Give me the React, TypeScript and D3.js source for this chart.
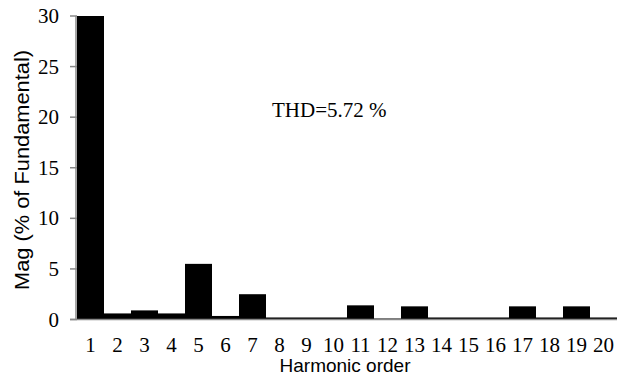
import * as d3 from "d3";

const HARMONICS = d3.range(1, 21).map(String);
const MAGNITUDES = [30, 0.6, 0.9, 0.6, 5.5, 0.35, 2.5, 0.2, 0.2, 0.2, 1.4, 0.1, 1.3, 0.2, 0.2, 0.2, 1.3, 0.2, 1.3, 0.2];
const Y_TICKS = [0, 5, 10, 15, 20, 25, 30];

const WIDTH = 617;
const HEIGHT = 379;
const MARGIN = { top: 16, right: 0, bottom: 60, left: 77 };

const App = () => {
  const boundsWidth = WIDTH - MARGIN.left - MARGIN.right;
  const boundsHeight = 319.5 - MARGIN.top;

  const xScale = d3.scaleBand().domain(HARMONICS).range([0, boundsWidth]).padding(0);
  const yScale = d3.scaleLinear().domain([0, 30]).range([boundsHeight, 0]);

  const bars = MAGNITUDES.map((v, i) => (
    <rect
      key={i}
      x={xScale(HARMONICS[i])}
      width={xScale.bandwidth()}
      y={yScale(v)}
      height={boundsHeight - yScale(v)}
      fill="#000"
    />
  ));

  return (
    <svg width={WIDTH} height={HEIGHT} style={{ position: "absolute", left: 0, top: 0 }}>
      <g transform={`translate(${MARGIN.left},${MARGIN.top})`}>
        {bars}
        {/* y axis */}
        <line x1={-1} x2={-1} y1={0} y2={boundsHeight} stroke="#888" strokeWidth={1.5} />
        {Y_TICKS.map((t) => (
          <g key={t} transform={`translate(0,${yScale(t)})`}>
            <line x1={-7} x2={0} stroke="#888" strokeWidth={1.5} />
            <text
              x={-18}
              textAnchor="end"
              dominantBaseline="central"
              fontFamily="Liberation Serif"
              fontSize={21}
            >
              {t}
            </text>
          </g>
        ))}
        {/* x axis */}
        <line x1={-7} x2={boundsWidth} y1={boundsHeight} y2={boundsHeight} stroke="#888" strokeWidth={1.5} />
        {HARMONICS.map((h) => (
          <text
            key={h}
            x={(xScale(h) ?? 0) + xScale.bandwidth() / 2}
            y={boundsHeight + 32}
            textAnchor="middle"
            fontFamily="Liberation Serif"
            fontSize={21}
          >
            {h}
          </text>
        ))}
        <text x={195} y={101} fontFamily="Liberation Serif" fontSize={21}>
          THD=5.72 %
        </text>
      </g>
      <text x={345} y={372} textAnchor="middle" fontFamily="Liberation Sans" fontSize={19}>
        Harmonic order
      </text>
      <text
        transform={`translate(29,170) rotate(-90)`}
        textAnchor="middle"
        fontFamily="Liberation Sans"
        fontSize={21}
        textLength={240}
        lengthAdjust="spacingAndGlyphs"
      >
        Mag (% of Fundamental)
      </text>
    </svg>
  );
};

export default App;
